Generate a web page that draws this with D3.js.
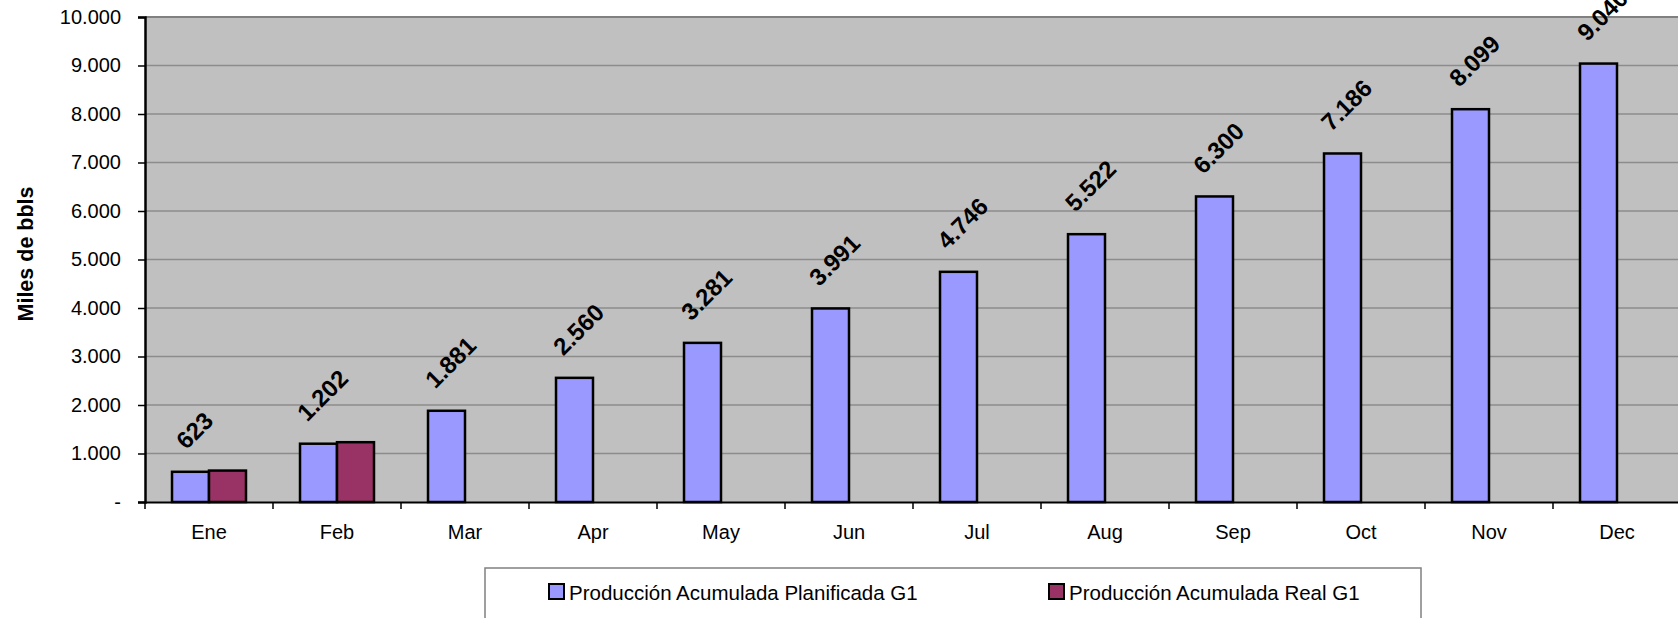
<!DOCTYPE html>
<html>
<head>
<meta charset="utf-8">
<script src="https://cdn.jsdelivr.net/npm/d3@7"></script>
<style>
  body { margin: 0; background: #fff; }
  svg text { font-family: "Liberation Sans", Arial, sans-serif; fill: #000; }
</style>
</head>
<body>
<div id="chart"></div>
<script>
'use strict';

const months = ['Ene', 'Feb', 'Mar', 'Apr', 'May', 'Jun', 'Jul', 'Aug', 'Sep', 'Oct', 'Nov', 'Dec'];
const seriesNames = ['Producción Acumulada Planificada G1', 'Producción Acumulada Real G1'];
const planned = [623, 1202, 1881, 2560, 3281, 3991, 4746, 5522, 6300, 7186, 8099, 9040];
const real = [648, 1233, null, null, null, null, null, null, null, null, null, null];
const yTicks = [0, 1000, 2000, 3000, 4000, 5000, 6000, 7000, 8000, 9000, 10000];
const colors = ['#9999FF', '#993366'];

const svgWidth = 1678, svgHeight = 618;
const margin = {top: 17, left: 145};
const plotW = 1536, plotH = 485;

// es-ES style: dot as thousands separator, zero shown as "-"
const fmt = v => v === 0 ? '-' : d3.format(',')(v).replace(/,/g, '.');

const svg = d3.select('#chart').append('svg')
  .attr('width', svgWidth).attr('height', svgHeight);

const g = svg.append('g')
  .attr('transform', 'translate(' + margin.left + ',' + margin.top + ')');

const x = d3.scaleBand().domain(months).range([0, plotW]).padding(0);
const groupW = x.bandwidth() * 0.578;
const x1 = d3.scaleBand().domain(seriesNames)
  .range([(x.bandwidth() - groupW) / 2, (x.bandwidth() + groupW) / 2]);
const y = d3.scaleLinear().domain([0, 10000]).range([plotH, 0]);

// plot background
g.append('rect')
  .attr('width', plotW).attr('height', plotH)
  .attr('fill', '#C0C0C0');

// gridlines
g.selectAll('line.grid')
  .data(yTicks.filter(t => t > 0))
  .enter().append('line')
    .attr('class', 'grid')
    .attr('x1', 0).attr('x2', plotW)
    .attr('y1', d => y(d)).attr('y2', d => y(d))
    .attr('stroke', d => d === 10000 ? '#808080' : '#8c8c8c')
    .attr('stroke-width', d => d === 10000 ? 2 : 1.3);

// bars
const rows = months.map((m, i) => ({month: m, values: [planned[i], real[i]]}));
const groups = g.selectAll('g.month')
  .data(rows)
  .enter().append('g')
    .attr('class', 'month')
    .attr('transform', d => 'translate(' + x(d.month) + ',0)');

groups.selectAll('rect')
  .data(d => d.values.map((v, j) => ({series: seriesNames[j], j: j, v: v})).filter(d => d.v != null))
  .enter().append('rect')
    .attr('x', d => x1(d.series))
    .attr('width', x1.bandwidth())
    .attr('y', d => y(d.v))
    .attr('height', d => plotH - y(d.v))
    .attr('fill', d => colors[d.j])
    .attr('stroke', '#000')
    .attr('stroke-width', 2.5);

// data labels, planned series only, rotated -45
const labels = g.selectAll('text.dlabel')
  .data(rows)
  .enter().append('text')
    .attr('class', 'dlabel')
    .attr('font-size', 24)
    .attr('font-weight', 'bold')
    .attr('text-anchor', 'middle')
    .attr('dy', '0.35em')
    .text(d => fmt(d.values[0]));

labels.each(function(d) {
  const bb = this.getBBox();
  const half = (bb.width + bb.height * 0.75) * Math.SQRT1_2 / 2;
  const cx = x(d.month) + x1(seriesNames[0]) + x1.bandwidth() / 2 + 4;
  const cy = y(d.values[0]) - 20 - half;
  d3.select(this).attr('transform', 'translate(' + cx + ',' + cy + ') rotate(-45)');
});

// y axis
const yAxis = g.append('g')
  .call(d3.axisLeft(y).tickValues(yTicks).tickFormat(fmt).tickSize(7).tickPadding(17));
yAxis.select('.domain').attr('stroke', '#000').attr('stroke-width', 2.5);
yAxis.selectAll('.tick line').attr('stroke', '#000').attr('stroke-width', 1.5);
yAxis.selectAll('text').attr('font-size', 20).attr('fill', '#000')
  .style('font-family', '"Liberation Sans", Arial, sans-serif');

// x axis
const xAxis = g.append('g')
  .attr('transform', 'translate(0,' + plotH + ')')
  .call(d3.axisBottom(x).tickSize(0).tickPadding(23));
xAxis.select('.domain').attr('stroke', '#000').attr('stroke-width', 2);
xAxis.selectAll('text').attr('font-size', 20).attr('fill', '#000')
  .style('font-family', '"Liberation Sans", Arial, sans-serif');
// category tick marks sit between categories
xAxis.selectAll('line.between')
  .data(months)
  .enter().append('line')
    .attr('class', 'between')
    .attr('x1', d => x(d)).attr('x2', d => x(d))
    .attr('y1', 0).attr('y2', 7)
    .attr('stroke', '#000').attr('stroke-width', 1.5);

// y axis title
svg.append('text')
  .attr('transform', 'translate(33,254) rotate(-90)')
  .attr('text-anchor', 'middle')
  .attr('font-size', 21.5)
  .attr('font-weight', 'bold')
  .text('Miles de bbls');

// legend
const legend = svg.append('g').attr('transform', 'translate(485,568)');
legend.append('rect')
  .attr('width', 936).attr('height', 80)
  .attr('fill', '#fff')
  .attr('stroke', '#808080').attr('stroke-width', 1.5);

const legendX = [64, 564];
const items = legend.selectAll('g.item')
  .data(seriesNames)
  .enter().append('g')
    .attr('class', 'item')
    .attr('transform', (d, i) => 'translate(' + legendX[i] + ',16)');
items.append('rect')
  .attr('width', 15).attr('height', 15)
  .attr('fill', (d, i) => colors[i])
  .attr('stroke', '#000').attr('stroke-width', 2);
items.append('text')
  .attr('x', 20).attr('y', 16)
  .attr('font-size', 20.5)
  .text(d => d);
</script>
</body>
</html>
